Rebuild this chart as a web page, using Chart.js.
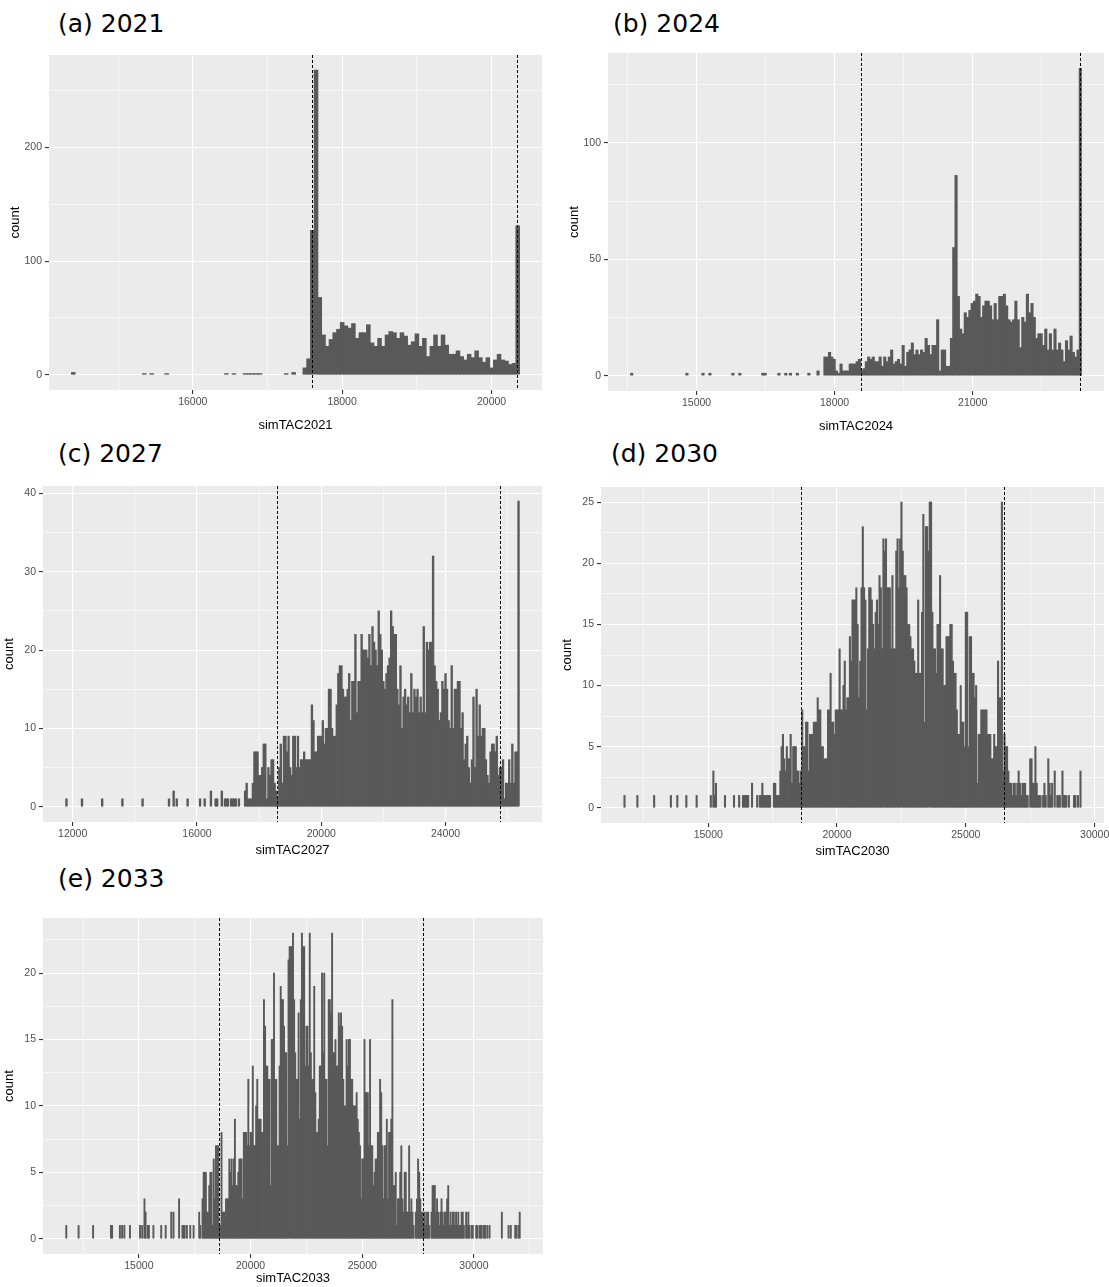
<!DOCTYPE html>
<html lang="en">
<head>
  <meta charset="UTF-8" />
  <title>simTAC histograms</title>
  <script src="https://cdn.jsdelivr.net/npm/chart.js"></script>
  <style>
    html, body {
      margin: 0;
      padding: 0;
      background: #ffffff;
      overflow: hidden;
    }
    body {
      width: 1109px;
      height: 1287px;
      position: relative;
    }
    .panel-title {
      position: absolute;
      font-family: 'DejaVu Sans', sans-serif;
      font-size: 25px;
      line-height: 1;
      color: #000;
      white-space: nowrap;
    }
    canvas {
      position: absolute;
    }
  </style>
</head>
<body>

  <div class="panel-title" style="left:58px; top:11px;">(a) 2021</div>
  <div class="panel-title" style="left:613px; top:11px;">(b) 2024</div>
  <div class="panel-title" style="left:58px; top:441px;">(c) 2027</div>
  <div class="panel-title" style="left:611px; top:441px;">(d) 2030</div>
  <div class="panel-title" style="left:58px; top:866px;">(e) 2033</div>

  <canvas id="chartA"></canvas>
  <canvas id="chartB"></canvas>
  <canvas id="chartC"></canvas>
  <canvas id="chartD"></canvas>
  <canvas id="chartE"></canvas>

  <script>
    // histogram bins are 50 wide, centre of first bin given per panel
    const binWidth = 50;

    // (a) 2021
    const startA = 14400;
    const countsA = [
      2,0,0,0,0,0,0,0,0,0,
      0,0,0,0,0,0,0,0,0,1,
      0,1,0,0,0,1,0,0,0,0,
      0,0,0,0,0,0,0,0,0,0,
      0,1,0,1,0,0,1,1,1,1,
      1,0,0,0,0,0,0,1,0,2,
      0,0,6,14,127,268,68,35,25,31,
      37,40,46,43,41,45,32,37,37,44,
      28,25,32,25,35,38,37,32,37,34,
      26,29,36,25,32,16,25,35,25,35,
      26,18,18,21,16,13,18,15,21,15,
      11,15,6,13,18,13,12,9,10,131
    ];
    const vlinesA = [17600, 20340];
    const xMajorA = [16000, 18000, 20000];
    const xMinorA = [15000, 17000, 19000];
    const yMajorA = [0, 100, 200];
    const yMinorA = [50, 150, 250];

    // (b) 2024
    const startB = 13590;
    const countsB = [
      1,0,0,0,0,0,0,0,0,0,
      0,0,0,0,0,0,0,0,0,0,
      0,0,0,0,1,0,0,0,0,0,
      0,1,0,0,1,0,0,0,0,0,
      0,0,0,0,1,0,0,1,0,0,
      0,0,0,0,0,0,0,1,1,0,
      0,0,0,0,1,0,0,1,0,1,
      0,0,1,0,0,0,0,1,0,0,
      0,2,0,0,8,8,10,8,7,2,
      1,5,2,2,2,5,5,5,6,7,
      2,3,6,8,7,8,6,6,8,4,
      8,6,8,11,5,6,7,5,13,4,
      10,11,14,9,11,9,11,10,16,13,
      9,13,13,24,2,11,11,4,4,16,
      55,86,34,20,18,27,25,28,31,32,
      35,34,25,30,32,32,30,24,31,24,
      34,34,35,30,24,23,24,32,24,12,
      25,23,35,27,31,25,16,18,18,13,
      20,11,18,11,20,11,14,11,6,15,
      11,17,10,8,11,132
    ];
    const vlinesB = [18570, 23340];
    const xMajorB = [15000, 18000, 21000];
    const xMinorB = [13500, 16500, 19500, 22500];
    const yMajorB = [0, 50, 100];
    const yMinorB = [25, 75, 125];

    // (c) 2027
    const startC = 11800;
    const countsC = [
      1,0,0,0,0,0,0,0,0,0,
      1,0,0,0,0,0,0,0,0,0,
      0,0,0,1,0,0,0,0,0,0,
      0,0,0,0,0,0,1,0,0,0,
      0,0,0,0,0,0,0,0,0,1,
      0,0,0,0,0,0,0,0,0,0,
      0,0,0,0,0,0,1,0,0,2,
      0,1,0,0,0,0,0,0,1,0,
      0,0,0,0,0,0,1,0,0,1,
      0,0,0,2,0,0,1,1,0,0,
      2,0,1,1,1,0,1,1,1,1,
      0,1,0,0,0,2,3,1,1,1,
      3,7,7,7,4,4,5,8,8,1,
      5,4,6,6,3,2,1,5,8,3,
      9,9,7,9,5,4,9,9,5,9,
      5,6,6,7,6,6,6,6,13,11,
      7,7,9,9,9,11,8,10,10,15,
      15,10,9,9,13,17,18,18,15,14,
      14,15,17,11,16,16,22,12,16,16,
      22,20,20,20,19,22,18,23,21,20,
      18,25,22,20,16,15,17,18,19,25,
      23,22,22,15,13,18,10,14,15,13,
      14,12,17,12,15,14,15,12,14,12,
      23,12,21,20,21,21,32,18,16,15,
      11,12,16,15,17,15,11,10,18,10,
      15,15,16,16,10,12,6,8,9,5,
      3,6,14,5,15,9,13,9,10,10,
      6,4,3,7,8,8,7,9,4,5,
      5,6,1,3,3,6,3,8,3,7,
      7,39
    ];
    const vlinesC = [18570, 25740];
    const xMajorC = [12000, 16000, 20000, 24000];
    const xMinorC = [14000, 18000, 22000, 26000];
    const yMajorC = [0, 10, 20, 30, 40];
    const yMinorC = [5, 15, 25, 35];

    // (d) 2030
    const startD = 11750;
    const countsD = [
      1,0,0,0,0,0,0,0,0,0,
      1,0,0,0,0,0,0,0,0,0,
      0,0,0,1,0,0,0,0,0,0,
      0,0,0,0,0,0,1,0,0,0,
      0,1,0,0,0,0,0,0,1,0,
      0,0,0,0,0,0,1,0,0,0,
      0,0,0,0,0,0,0,1,0,3,
      1,2,0,0,0,0,0,0,1,0,
      0,0,0,0,0,1,0,0,0,1,
      0,0,1,1,1,1,1,0,0,2,
      0,0,0,1,0,1,1,2,1,1,
      1,1,1,1,0,0,2,2,1,1,
      1,3,5,6,4,3,5,4,4,6,
      2,5,5,5,3,3,2,3,8,5,
      5,7,7,3,6,6,6,7,7,7,
      9,8,8,5,5,4,4,4,8,8,
      11,7,7,6,8,8,8,13,8,8,
      10,12,8,9,9,14,12,17,17,17,
      18,15,9,12,18,23,18,17,8,13,
      18,18,17,15,13,16,17,15,19,18,
      13,22,21,22,18,18,18,13,19,13,
      13,21,22,18,22,25,21,19,19,18,
      15,15,14,13,13,12,11,11,17,11,
      11,16,24,7,23,23,21,25,25,16,
      13,13,11,15,15,19,13,13,10,10,
      14,14,14,15,15,12,11,11,8,6,
      6,10,7,7,5,16,16,5,14,14,
      11,11,9,10,2,6,6,8,8,8,
      8,8,6,6,6,4,4,6,5,5,
      12,9,9,25,3,6,5,5,3,2,
      2,1,2,2,1,2,3,2,1,2,
      2,2,1,1,0,4,4,2,2,5,
      2,1,1,1,0,1,2,1,0,4,
      2,1,2,0,3,0,1,1,1,0,
      3,1,1,1,0,1,0,0,0,1,
      1,0,1,0,3
    ];
    const vlinesD = [18620, 26480];
    const xMajorD = [15000, 20000, 25000, 30000];
    const xMinorD = [12500, 17500, 22500, 27500];
    const yMajorD = [0, 5, 10, 15, 20, 25];
    const yMinorD = [2.5, 7.5, 12.5, 17.5, 22.5];

    // (e) 2033
    const startE = 11750;
    const countsE = [
      1,0,0,0,0,0,0,0,0,0,
      0,1,0,0,0,0,0,0,0,0,
      0,0,0,0,1,0,0,0,0,0,
      0,0,0,0,0,0,0,0,0,0,
      1,1,0,0,0,0,0,0,1,0,
      1,0,1,0,0,0,0,1,0,0,
      0,0,0,0,0,0,1,0,1,0,
      3,2,0,1,1,0,0,0,1,0,
      0,0,0,0,0,1,0,0,0,1,
      0,0,0,0,2,0,2,0,0,0,
      0,3,0,0,1,1,1,0,1,0,
      0,1,0,0,1,0,0,0,0,2,
      1,0,3,5,5,5,2,2,4,5,
      5,1,6,3,7,7,7,1,1,8,
      2,2,2,3,3,3,6,5,6,4,
      6,9,4,4,5,6,6,6,3,8,
      8,8,7,12,7,8,8,13,7,7,
      10,12,9,9,9,8,8,18,16,13,
      13,12,12,4,15,15,20,12,12,7,
      7,13,19,18,18,16,14,14,7,21,
      22,22,22,23,18,14,12,12,17,9,
      18,23,22,22,13,16,16,13,23,14,
      12,12,19,11,8,8,9,13,13,20,
      14,20,12,12,7,18,18,17,23,14,
      14,15,13,13,17,16,17,16,12,10,
      10,15,13,15,15,12,12,10,10,10,
      11,9,8,7,3,6,6,15,11,11,
      11,7,15,7,7,4,5,6,6,8,
      8,12,11,7,3,7,7,9,3,8,
      8,9,18,4,4,5,1,3,3,5,
      7,3,2,5,5,2,2,7,2,3,
      2,1,0,2,3,6,5,3,2,2,
      1,2,1,2,2,1,0,2,4,4,
      4,2,3,2,1,2,3,2,1,2,
      2,3,4,1,2,1,2,2,1,2,
      1,2,1,1,2,2,1,0,2,1,
      2,1,0,1,1,0,0,1,1,0,
      1,1,1,0,1,1,0,1,0,1,
      0,0,0,0,0,0,0,0,0,0,
      2,0,0,0,0,0,1,0,1,0,
      0,0,1,1,0,1,2
    ];
    const vlinesE = [18565, 27730];
    const xMajorE = [15000, 20000, 25000, 30000];
    const xMinorE = [12500, 17500, 22500, 27500, 32500];
    const yMajorE = [0, 5, 10, 15, 20];
    const yMinorE = [2.5, 7.5, 12.5, 17.5, 22.5];

    const tickFont = { family: "'Liberation Sans', Arial, sans-serif", size: 10.5 };
    const titleFont = { family: "'Liberation Sans', Arial, sans-serif", size: 13 };

    // grey panel behind the grid, like ggplot's theme_gray
    const panelBg = {
      id: 'panelBg',
      beforeDraw(chart) {
        const { ctx, chartArea: a } = chart;
        ctx.save();
        ctx.fillStyle = '#EBEBEB';
        ctx.fillRect(a.left, a.top, a.right - a.left, a.bottom - a.top);
        ctx.restore();
      }
    };

    // dashed vertical reference lines
    const vlinePlugin = {
      id: 'vlines',
      afterDatasetsDraw(chart, args, opts) {
        const { ctx, chartArea: a } = chart;
        const x = chart.scales.x;
        ctx.save();
        ctx.strokeStyle = '#000';
        ctx.lineWidth = 1;
        ctx.setLineDash([3, 2]);
        (opts.values || []).forEach(v => {
          const px = Math.round(x.getPixelForValue(v)) + 0.5;
          ctx.beginPath();
          ctx.moveTo(px, a.top);
          ctx.lineTo(px, a.bottom);
          ctx.stroke();
        });
        ctx.restore();
      }
    };

    function makePanel(id, plot, start, counts, vlines, xMajor, xMinor, yMajor, yMinor, xTitle) {
      const yAxisW = 46, padTop = 6, padRight = 6;
      // x title centre sits plot.titleGap px under the panel
      const xAxisH = Math.round(plot.titleGap + 3 + titleFont.size * 0.6);
      const canvas = document.getElementById(id);
      const w = plot.right - plot.left + yAxisW + padRight;
      const h = plot.bottom - plot.top + padTop + xAxisH;
      canvas.width = w;
      canvas.height = h;
      canvas.style.width = w + 'px';
      canvas.style.height = h + 'px';
      canvas.style.left = (plot.left - yAxisW) + 'px';
      canvas.style.top = (plot.top - padTop) + 'px';

      // ggplot style 5% expansion of the binned range
      const lo = start - binWidth / 2;
      const hi = start + (counts.length - 0.5) * binWidth;
      const xpad = 0.05 * (hi - lo);
      const ymaxData = Math.max(...counts);

      const xTicks = [...xMajor, ...xMinor].sort((p, q) => p - q);
      const yTicks = [...yMajor, ...yMinor].sort((p, q) => p - q);

      const isMajor = (list) => (c) => c.tick && list.includes(c.tick.value);

      new Chart(canvas, {
        type: 'bar',
        data: {
          datasets: [{
            data: counts.map((c, i) => ({ x: start + i * binWidth, y: c === 0 ? null : c })),
            backgroundColor: '#595959',
            borderWidth: 0,
            barPercentage: 1,
            categoryPercentage: 1,
            inflateAmount: 0.4
          }]
        },
        options: {
          responsive: false,
          animation: false,
          devicePixelRatio: 1,
          layout: { padding: { top: padTop, right: padRight, left: 0, bottom: 0 } },
          plugins: {
            legend: { display: false },
            tooltip: { enabled: false },
            vlines: { values: vlines }
          },
          scales: {
            x: {
              type: 'linear',
              bounds: 'data',
              offset: false,
              min: lo - xpad,
              max: hi + xpad,
              border: { display: false },
              grid: {
                offset: false,
                color: '#ffffff',
                lineWidth: c => isMajor(xMajor)(c) ? 1.1 : 0.55,
                tickColor: c => isMajor(xMajor)(c) ? '#333333' : 'rgba(0,0,0,0)',
                tickLength: 4
              },
              ticks: {
                autoSkip: false,
                maxRotation: 0,
                padding: 2,
                color: '#4D4D4D',
                font: tickFont,
                callback: v => xMajor.includes(v) ? String(v) : ''
              },
              afterBuildTicks: s => { s.ticks = xTicks.map(v => ({ value: v })); },
              afterFit: s => {
                s.height = xAxisH;
                s.paddingLeft = 0; s.paddingRight = 0; s.paddingTop = 0; s.paddingBottom = 0;
              },
              title: {
                display: true,
                text: xTitle,
                color: '#000',
                font: titleFont,
                padding: { top: 0, bottom: 3 }
              }
            },
            y: {
              type: 'linear',
              bounds: 'data',
              min: -0.05 * ymaxData,
              max: 1.05 * ymaxData,
              border: { display: false },
              grid: {
                color: '#ffffff',
                lineWidth: c => isMajor(yMajor)(c) ? 1.1 : 0.55,
                tickColor: c => isMajor(yMajor)(c) ? '#333333' : 'rgba(0,0,0,0)',
                tickLength: 4
              },
              ticks: {
                autoSkip: false,
                padding: 3,
                color: '#4D4D4D',
                font: tickFont,
                callback: v => yMajor.includes(v) ? String(v) : ''
              },
              afterBuildTicks: s => { s.ticks = yTicks.map(v => ({ value: v })); },
              afterFit: s => {
                s.width = yAxisW;
                s.paddingLeft = 0; s.paddingRight = 0; s.paddingTop = 0; s.paddingBottom = 0;
              },
              title: {
                display: true,
                text: 'count',
                color: '#000',
                font: titleFont,
                padding: { top: 5, bottom: 0 }
              }
            }
          }
        },
        plugins: [panelBg, vlinePlugin]
      });
    }

    makePanel('chartA', { left: 49, top: 55, right: 542, bottom: 390, titleGap: 35 },
      startA, countsA, vlinesA, xMajorA, xMinorA, yMajorA, yMinorA, 'simTAC2021');
    makePanel('chartB', { left: 608, top: 53, right: 1104, bottom: 391, titleGap: 35 },
      startB, countsB, vlinesB, xMajorB, xMinorB, yMajorB, yMinorB, 'simTAC2024');
    makePanel('chartC', { left: 43, top: 486, right: 542, bottom: 822, titleGap: 28 },
      startC, countsC, vlinesC, xMajorC, xMinorC, yMajorC, yMinorC, 'simTAC2027');
    makePanel('chartD', { left: 601, top: 487, right: 1104, bottom: 823, titleGap: 28 },
      startD, countsD, vlinesD, xMajorD, xMinorD, yMajorD, yMinorD, 'simTAC2030');
    makePanel('chartE', { left: 43, top: 918, right: 543, bottom: 1254, titleGap: 24 },
      startE, countsE, vlinesE, xMajorE, xMinorE, yMajorE, yMinorE, 'simTAC2033');
  </script>
</body>
</html>
